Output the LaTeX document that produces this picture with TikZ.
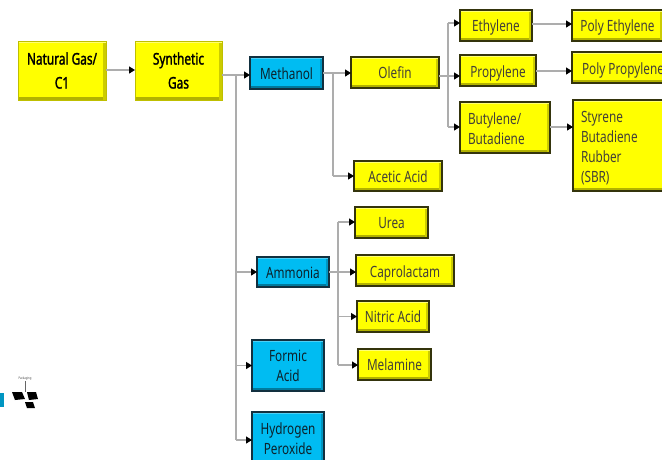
\documentclass[tikz,border=0pt]{standalone}
\usepackage{fontspec}
\setmainfont[FakeStretch=0.76]{Noto Sans}
\newfontfamily\heavyfont[FakeStretch=0.74,FakeBold=1.6]{Noto Sans}
\usetikzlibrary{arrows.meta}
\definecolor{yel}{HTML}{FFFF00}
\definecolor{cya}{HTML}{00BCF2}
\definecolor{edgeY}{HTML}{34340C}
\definecolor{edgeC}{HTML}{12303F}
\tikzset{
  x=1pt,y=-1pt,
  basebox/.style={rectangle,inner sep=0pt,outer sep=0pt,line width=1.05pt,font=\fontsize{15.5}{20}\selectfont,text=black!85!yellow},
  ybox/.style={basebox,draw=edgeY,fill=yel,align=center,
    path picture={
      \fill[yel!70!black] (path picture bounding box.south west) rectangle ([shift={(0pt,3pt)}]path picture bounding box.south east);
      \fill[yel!80!black] (path picture bounding box.south east) rectangle ([shift={(-3pt,0pt)}]path picture bounding box.north east);
      \fill[yel!55!white] (path picture bounding box.north west) rectangle ([shift={(0pt,-2pt)}]path picture bounding box.north east);
    }},
  lbox/.style={ybox,align=left},
  rawbox/.style={ybox,draw=yel!75!black,line width=.8pt,font=\heavyfont\fontsize{16}{24}\selectfont,text=black},
  cbox/.style={basebox,draw=edgeC,fill=cya,align=center,text=edgeC!70!black,
    path picture={
      \fill[cya!65!black] (path picture bounding box.south west) rectangle ([shift={(0pt,3pt)}]path picture bounding box.south east);
      \fill[cya!80!black] (path picture bounding box.south east) rectangle ([shift={(-3pt,0pt)}]path picture bounding box.north east);
      \fill[cya!70!white] (path picture bounding box.north west) rectangle ([shift={(0pt,-2pt)}]path picture bounding box.north east);
    }},
  low/.style={text height=14pt,text depth=2pt},
  lower/.style={text height=15pt,text depth=1pt},
  link/.style={draw=black!32,line width=1.2pt},
  conn/.style={link,-{Triangle[length=6pt,width=7pt,color=black]}},
  logo/.style={fill=black,draw=none},
}
\begin{document}
\begin{tikzpicture}
\useasboundingbox (0,0) rectangle (662,459);
\node[rawbox,minimum width=88pt,minimum height=59pt] (nat) at (62,70.5) {Natural Gas/\\C1};
\node[rawbox,minimum width=87pt,minimum height=59pt] (syn) at (178.5,70.5) {Synthetic\\Gas};
\node[cbox,low,minimum width=73pt,minimum height=32pt] (meth) at (286.5,73) {Methanol};
\node[ybox,low,minimum width=88pt,minimum height=31pt] (ole) at (395,72.5) {Olefin};
\node[ybox,low,minimum width=72pt,minimum height=31pt] (eth) at (496,25.5) {Ethylene};
\node[ybox,lower,minimum width=76pt,minimum height=31pt] (pro) at (498,70.5) {Propylene};
\node[lbox,minimum width=90pt,minimum height=51pt,text width=74pt] (but) at (505,127.5) {\rule{0pt}{14pt}Butylene/\\Butadiene};
\node[ybox,low,minimum width=91pt,minimum height=31pt] (pe) at (617.5,25.5) {Poly Ethylene};
\node[ybox,lower,minimum width=102pt,minimum height=31pt] (pp) at (623,67.5) {Poly Propylene};
\node[lbox,minimum width=92pt,minimum height=91pt,text width=76pt] (sbr) at (619,145.5) {\rule{0pt}{16pt}Styrene\\Butadiene\\Rubber\\(SBR)};
\node[ybox,low,minimum width=88pt,minimum height=30pt] (ace) at (398,176) {Acetic Acid};
\node[cbox,low,minimum width=72pt,minimum height=30pt] (amm) at (293,272) {Ammonia};
\node[ybox,low,minimum width=73pt,minimum height=31pt] (ure) at (391.5,222.5) {Urea};
\node[ybox,lower,minimum width=98pt,minimum height=31pt] (cap) at (405,270.5) {Caprolactam};
\node[ybox,minimum width=72pt,minimum height=31pt] (nit) at (393,316.5) {Nitric Acid};
\node[ybox,low,minimum width=73pt,minimum height=31pt] (mel) at (394.5,364.5) {Melamine};
\node[cbox,minimum width=72pt,minimum height=51pt] (for) at (288,365.5) {Formic\\Acid};
\node[cbox,minimum width=72pt,minimum height=54pt] (hyd) at (288,439) {Hydrogen\\Peroxide};
\coordinate (j1) at (236,75);
\coordinate (j1b) at (236,440);
\coordinate (j2) at (333,73);
\coordinate (j2b) at (333,176);
\coordinate (j3) at (448,76);
\coordinate (j3t) at (448,23);
\coordinate (j3b) at (448,127);
\coordinate (j4) at (338,272);
\coordinate (j4t) at (338,222);
\coordinate (j4b) at (338,365);
\coordinate (n1) at (0,70);
\coordinate (n2) at (0,24);
\coordinate (n3) at (0,71);
\coordinate (n4) at (0,127);
\draw[conn] (nat.east |- n1) -- (syn.west |- n1);
\draw[conn] (syn.east |- j1) -- (meth.west |- j1);
\draw[link] (j1) -- (j1b);
\draw[conn] (j1 |- amm) -- (amm.west);
\draw[conn] (j1 |- for) -- (for.west);
\draw[conn] (j1b) -- (hyd.west |- j1b);
\draw[conn] (meth.east |- j2) -- (ole.west |- j2);
\draw[link] (j2) -- (j2b);
\draw[conn] (j2b) -- (ace.west |- j2b);
\draw[conn] (ole.east |- j3) -- (pro.west |- j3);
\draw[link] (j3t) -- (j3b);
\draw[conn] (j3t) -- (eth.west |- j3t);
\draw[conn] (j3b) -- (but.west |- j3b);
\draw[conn] (eth.east |- n2) -- (pe.west |- n2);
\draw[conn] (pro.east |- n3) -- (pp.west |- n3);
\draw[conn] (but.east |- n4) -- (sbr.west |- n4);
\draw[conn] (amm.east |- j4) -- (cap.west |- j4);
\draw[link] (j4t) -- (j4b);
\draw[conn] (j4t) -- (ure.west |- j4t);
\draw[conn] (j4 |- nit) -- (nit.west);
\draw[conn] (j4b) -- (mel.west |- j4b);
\fill[cya!80!black] (0,393) rectangle (4,407);
\node[font=\fontsize{3.5}{4}\selectfont,inner sep=0pt,text=black!70] (pk) at (25,379) {Packaging};
\coordinate (lg) at (25,392);
\draw[black!60,line width=.4pt] (pk.south) -- (lg);
\fill[logo] (12,392) -- (22,392) -- (25,399) -- (15,400) -- cycle;
\fill[logo] (27,392) -- (36,392) -- (38,399) -- (29,400) -- cycle;
\fill[logo] (25,402) -- (33,402) -- (35,408) -- (27,408) -- cycle;
\end{tikzpicture}
\end{document}
